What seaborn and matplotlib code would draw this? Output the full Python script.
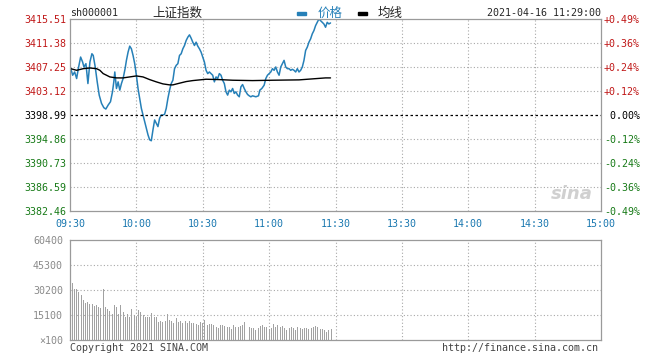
import numpy as np
import pandas as pd
import matplotlib
matplotlib.use("Agg")
import matplotlib.pyplot as plt
import seaborn as sns

# price readings (minutes after 09:30, index points)
price_min = [0.3, 1.2, 2.1, 3, 3.75, 4.8, 5.7, 6.3, 7.2, 8.1, 9, 9.9, 10.5, 11.4, 12.3, 13.2,
             14.25, 15.3, 16.2, 17.25, 18.3, 19.2, 19.8, 20.25, 21, 21.75, 22.5, 23.25, 24,
             24.9, 25.5, 26.25, 27, 27.75, 28.5, 29.25, 30, 30.75, 31.5, 32.25, 33, 33.75,
             34.5, 35.25, 36, 36.75, 37.5, 38.25, 39, 39.75, 40.5, 41.25, 42, 42.75, 43.5,
             44.25, 45, 45.75, 46.5, 47.25, 48, 48.75, 49.5, 50.25, 51, 51.75, 52.5, 53.25,
             54, 54.75, 55.5, 56.25, 57, 57.75, 58.5, 59.25, 60, 60.75, 61.5, 62.25, 63,
             63.75, 64.5, 65.25, 66, 66.75, 67.5, 68.25, 69, 69.75, 70.5, 71.25, 72, 72.75,
             73.5, 74.25, 75, 75.75, 76.5, 77.25, 78, 78.75, 79.5, 80.25, 81, 81.75, 82.5,
             84, 85.2, 85.8, 86.7, 87.75, 88.5, 89.25, 90, 90.75, 91.5, 92.25, 93, 93.75,
             94.5, 95.25, 96, 96.75, 97.5, 98.25, 99, 99.75, 100.5, 101.25, 102, 102.75,
             103.5, 104.25, 105, 105.75, 106.5, 107.25, 108, 108.75, 109.5, 110.25, 111,
             111.75, 112.5, 113.25, 114, 114.75, 115.5, 116.25, 117, 117.75]
price = [3407.08, 3405.83, 3406.39, 3405.26, 3406.96, 3408.96, 3408.10, 3407.25, 3407.82,
         3404.40, 3408.10, 3409.53, 3409.24, 3407.25, 3404.69, 3402.41, 3400.98, 3400.24,
         3400.01, 3400.70, 3401.27, 3402.98, 3404.69, 3406.39, 3403.55, 3404.69, 3403.26,
         3404.40, 3405.26, 3406.96, 3408.39, 3409.81, 3410.84, 3410.38, 3409.24, 3407.82,
         3405.83, 3403.55, 3401.84, 3400.13, 3398.99, 3397.85, 3396.71, 3395.57, 3394.72,
         3394.55, 3396.43, 3398.13, 3397.56, 3396.99, 3398.42, 3398.99, 3398.99, 3399.10,
         3400.13, 3401.84, 3403.26, 3404.40, 3404.97, 3406.96, 3407.53, 3407.82, 3409.24,
         3409.53, 3410.38, 3410.95, 3411.81, 3412.38, 3412.78, 3412.21, 3411.52, 3410.95,
         3411.52, 3410.84, 3410.38, 3409.81, 3408.96, 3408.10, 3406.68, 3406.11, 3406.39,
         3406.11, 3405.83, 3404.69, 3405.54, 3405.26, 3406.11, 3405.83, 3404.97, 3404.40,
         3402.98, 3402.41, 3403.26, 3402.98, 3403.55, 3402.69, 3402.98, 3402.41, 3402.12,
         3403.83, 3404.23, 3403.55, 3402.98, 3402.52, 3402.29, 3402.12, 3402.29, 3402.12,
         3402.29, 3403.26, 3403.55, 3404.12, 3405.26, 3405.83, 3406.11, 3406.39, 3406.96,
         3406.68, 3407.25, 3406.39, 3405.83, 3407.25, 3407.82, 3408.39, 3407.25, 3406.96,
         3406.96, 3406.68, 3406.85, 3406.68, 3406.39, 3406.96, 3406.39, 3406.68, 3407.25,
         3408.39, 3410.10, 3410.67, 3411.52, 3412.09, 3412.95, 3413.52, 3414.37, 3414.94,
         3415.51, 3415.23, 3414.94, 3414.66, 3414.09, 3414.94, 3414.66, 3414.83]

# average price line
avg_min = [0.3, 3, 6, 9, 12, 13.5, 15, 16.5, 18, 21, 24, 27, 30, 33, 36, 39, 42, 45, 46.5,
           49.5, 52.5, 55.5, 61.5, 67.5, 73.5, 82.5, 91.5, 103.5, 109.5, 115.5, 117.75]
avg = [3406.96, 3406.68, 3406.96, 3407.08, 3406.96, 3406.68, 3406.11, 3405.83, 3405.54,
       3405.37, 3405.37, 3405.54, 3405.71, 3405.54, 3405.08, 3404.69, 3404.34, 3404.17,
       3404.17, 3404.46, 3404.74, 3404.91, 3405.14, 3405.08, 3404.97, 3404.91, 3404.97,
       3405.03, 3405.20, 3405.37, 3405.37]

# volume per minute (x100)
volume = [60400,
          34600, 30600, 30800, 29000, 27200, 24200, 22100, 23100, 21700, 21700, 20500, 21100,
          19700, 19100, 30600, 19700, 18500, 17500, 15700, 21100, 19700, 15700, 21000, 17100,
          14100, 15500, 14100, 18500, 15100, 14100, 18100, 17100, 15100, 14100, 13700, 14100,
          16100, 14100, 14100, 11100, 11700, 11100, 11700, 15500, 12100, 11700, 10100, 13500,
          11100, 11700, 10100, 11700, 10500, 11700, 10500, 10100,
          9700, 9100, 11100, 10500, 12100, 9100, 9700, 9700, 9100, 8100, 7000, 9100, 9100,
          8500, 8100, 7700, 6400, 9100, 8100, 7700, 8500, 9100, 10700, 11700, 7700, 7000,
          7000, 6000, 7000, 8500, 9100, 8100, 7700, 6400, 7000, 9700, 8100, 9100, 8100, 8500,
          7000, 6000, 7000, 7700, 7000, 6000, 7700, 7000, 6400, 7000, 7000, 6400, 7000, 8100,
          8500, 7700, 6400, 6400, 6000, 5000, 6000, 6400]

time_ticks = [0, 30, 60, 90, 120, 150, 180, 210, 240]
time_labels = ["09:30", "10:00", "10:30", "11:00", "11:30", "13:30", "14:00", "14:30", "15:00"]
price_ticks = [3382.46, 3386.59, 3390.73, 3394.86, 3398.99, 3403.12, 3407.25, 3411.38, 3415.51]
pct_labels = ["-0.49%", "-0.36%", "-0.24%", "-0.12%", " 0.00%", "+0.12%", "+0.24%", "+0.36%", "+0.49%"]
vol_ticks = [0, 15100, 30200, 45300, 60400]
vol_labels = ["\u00d7100", "15100", "30200", "45300", "60400"]
prev_close = 3398.99

sns.set_style("white")
plt.rcParams['font.family'] = ['DejaVu Sans Mono', 'Noto Sans CJK SC']

RED = '#c01818'
GREEN = '#177a17'
BLUE = '#2680b8'
TXTBLUE = '#1a78b0'
GRAY = '#9a9a9a'
BARGRAY = '#a2a2a2'
GRID = '#a8a8a8'

fig = plt.figure(figsize=(6.6, 3.6), dpi=100)
W, H = 660, 360


def fx(px):
    return px / W


def fy(py):
    return 1 - py / H


ax = fig.add_axes([fx(70), fy(211), fx(601) - fx(70), fy(19) - fy(211)])
axv = fig.add_axes([fx(70), fy(340), fx(601) - fx(70), fy(240) - fy(340)])

df_price = pd.DataFrame({'t': price_min, 'p': price})
df_avg = pd.DataFrame({'t': avg_min, 'p': avg})
sns.lineplot(data=df_price, x='t', y='p', ax=ax, color=BLUE, linewidth=1.1)
sns.lineplot(data=df_avg, x='t', y='p', ax=ax, color='black', linewidth=1.0)
ax.axhline(prev_close, color='black', linestyle=(0, (2, 2)), linewidth=0.9)

ax.set_xlim(0, 240)
ax.set_ylim(price_ticks[0], price_ticks[-1])
ax.set_xticks(time_ticks)
ax.set_xticklabels(time_labels, color=TXTBLUE, fontsize=7.2)
ax.set_yticks(price_ticks)
ax.set_yticklabels(["%.2f" % v for v in price_ticks], fontsize=7.2)
for lab, v in zip(ax.get_yticklabels(), price_ticks):
    lab.set_color(RED if v > prev_close + 0.01 else (GREEN if v < prev_close - 0.01 else 'black'))
ax.set_xlabel('')
ax.set_ylabel('')
ax.tick_params(axis='both', length=0)
ax.tick_params(axis='x', pad=6)
ax.tick_params(axis='y', pad=3)
for t in time_ticks[1:-1]:
    ax.axvline(t, color=GRID, linestyle=(0, (1, 2)), linewidth=0.8, zorder=0)
for v in price_ticks[1:-1]:
    if v != prev_close:
        ax.axhline(v, color=GRID, linestyle=(0, (1, 2)), linewidth=0.8, zorder=0)
for s in ax.spines.values():
    s.set_color(GRAY)
    s.set_linewidth(0.9)

ax2 = ax.twinx()
ax2.set_ylim(price_ticks[0], price_ticks[-1])
ax2.set_yticks(price_ticks)
ax2.set_yticklabels(pct_labels, fontsize=7.2)
for lab, v in zip(ax2.get_yticklabels(), price_ticks):
    lab.set_color(RED if v > prev_close + 0.01 else (GREEN if v < prev_close - 0.01 else 'black'))
ax2.tick_params(axis='y', length=0, pad=2)
for s in ax2.spines.values():
    s.set_visible(False)

ax.text(0.985, 0.04, 'sina', transform=ax.transAxes, ha='right', va='bottom',
        fontsize=13, fontstyle='italic', fontweight='bold', color='#d0d0d0',
        family='DejaVu Sans')

# volume
axv.bar(np.arange(len(volume)), volume, width=0.45, color=BARGRAY, linewidth=0, zorder=2)
axv.set_xlim(0, 240)
axv.set_ylim(0, 60400)
axv.set_xticks([])
axv.set_yticks(vol_ticks)
axv.set_yticklabels(vol_labels, color='#8a8a8a', fontsize=7.2)
axv.tick_params(axis='y', length=0, pad=5)
for t in time_ticks[1:-1]:
    axv.axvline(t, color=GRID, linestyle=(0, (1, 2)), linewidth=0.8, zorder=1)
for v in vol_ticks[1:-1]:
    axv.axhline(v, color=GRID, linestyle=(0, (1, 2)), linewidth=0.8, zorder=1)
for s in axv.spines.values():
    s.set_color(GRAY)
    s.set_linewidth(0.9)

# header
fig.text(fx(70), fy(13), 'sh000001', fontsize=7.2, va='center', ha='left')
fig.text(fx(152), fy(13), '上证指数', fontsize=9, va='center', ha='left',
         family=['Noto Sans CJK SC', 'DejaVu Sans'])
fig.patches.append(plt.Rectangle((fx(297), fy(14.5)), fx(9), fy(11.5) - fy(14.5),
                                 transform=fig.transFigure, color=BLUE))
fig.text(fx(318), fy(13), '价格', fontsize=9, va='center', ha='left', color=BLUE,
         family=['Noto Sans CJK SC', 'DejaVu Sans'])
fig.patches.append(plt.Rectangle((fx(358), fy(14.5)), fx(9), fy(11.5) - fy(14.5),
                                 transform=fig.transFigure, color='black'))
fig.text(fx(378), fy(13), '均线', fontsize=9, va='center', ha='left',
         family=['Noto Sans CJK SC', 'DejaVu Sans'])
fig.text(fx(601), fy(13), '2021-04-16 11:29:00', fontsize=7.2, va='center', ha='right')

# footer
fig.text(fx(70), fy(348), 'Copyright 2021 SINA.COM', fontsize=7.2, va='center', ha='left',
         color='#444444')
fig.text(fx(598), fy(348), 'http://finance.sina.com.cn', fontsize=7.2, va='center',
         ha='right', color='#444444')

fig.savefig('out.png', dpi=100)
